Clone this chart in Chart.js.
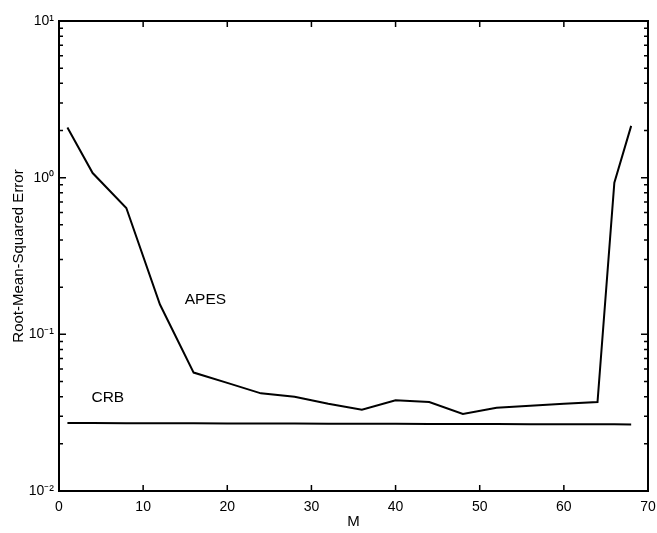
<!DOCTYPE html>
<html>
<head>
<meta charset="utf-8">
<script src="https://cdn.jsdelivr.net/npm/chart.js@4"></script>
<style>
  html, body { margin: 0; padding: 0; background: #fff; }
  #wrap { width: 657px; height: 533px; }
</style>
</head>
<body>
<div id="wrap"><canvas id="c" width="657" height="533"></canvas></div>
<script>
// values
const mValues = [1, 4, 8, 12, 16, 20, 24, 28, 32, 36, 40, 44, 48, 52, 56, 60, 64, 66, 68];
const apesRmse = [2.09, 1.07, 0.64, 0.155, 0.057, 0.049, 0.042, 0.040, 0.036, 0.033, 0.038, 0.037, 0.031, 0.034, 0.035, 0.036, 0.037, 0.93, 2.14];
const crbRmse = [0.0272, 0.0272, 0.0271, 0.0271, 0.0271, 0.0270, 0.0270, 0.0270, 0.0269, 0.0269, 0.0269, 0.0268, 0.0268, 0.0268, 0.0267, 0.0267, 0.0267, 0.0267, 0.0266];
const xTicks = [0, 10, 20, 30, 40, 50, 60, 70];
const decadeLabels = { '-2': '10\u207B\u00B2', '-1': '10\u207B\u00B9', '0': '10\u2070', '1': '10\u00B9' };
const curveLabels = [
  { text: 'APES', m: 17.4, v: 0.167 },
  { text: 'CRB', m: 5.8, v: 0.0393 }
];

const font = { family: 'Liberation Sans, Arial, sans-serif', size: 14 };

const boxTicks = {
  id: 'boxTicks',
  afterDatasetsDraw(chart) {
    const { ctx, chartArea: a, scales: { x, y } } = chart;
    ctx.save();
    ctx.strokeStyle = '#000';
    ctx.lineWidth = 1.5;
    ctx.beginPath();
    x.ticks.forEach(t => {
      const px = x.getPixelForValue(t.value);
      if (px <= a.left + 1 || px >= a.right - 1) return;
      ctx.moveTo(px, a.bottom); ctx.lineTo(px, a.bottom - 6);
      ctx.moveTo(px, a.top); ctx.lineTo(px, a.top + 6);
    });
    y.ticks.forEach(t => {
      const py = y.getPixelForValue(t.value);
      if (py <= a.top + 1 || py >= a.bottom - 1) return;
      const major = Math.abs(Math.log10(t.value) - Math.round(Math.log10(t.value))) < 1e-6;
      const len = major ? 7 : 4;
      ctx.moveTo(a.left, py); ctx.lineTo(a.left + len, py);
      ctx.moveTo(a.right, py); ctx.lineTo(a.right - len, py);
    });
    ctx.stroke();
    ctx.lineWidth = 2;
    ctx.strokeRect(a.left, a.top, a.right - a.left, a.bottom - a.top);
    ctx.fillStyle = '#000';
    ctx.font = '15.5px ' + font.family;
    ctx.textAlign = 'center';
    ctx.textBaseline = 'middle';
    curveLabels.forEach(l => {
      ctx.fillText(l.text, x.getPixelForValue(l.m), y.getPixelForValue(l.v));
    });
    ctx.restore();
  }
};

new Chart(document.getElementById('c'), {
  type: 'line',
  data: {
    labels: mValues,
    datasets: [
      {
        label: 'APES',
        data: mValues.map((m, i) => ({ x: m, y: apesRmse[i] })),
        borderColor: '#000',
        borderWidth: 2,
        pointRadius: 0,
        tension: 0
      },
      {
        label: 'CRB',
        data: mValues.map((m, i) => ({ x: m, y: crbRmse[i] })),
        borderColor: '#000',
        borderWidth: 2,
        pointRadius: 0,
        tension: 0
      }
    ]
  },
  options: {
    responsive: false,
    animation: false,
    layout: { padding: { top: 21, right: 9, left: 0, bottom: 0 } },
    plugins: { legend: { display: false }, tooltip: { enabled: false } },
    scales: {
      x: {
        type: 'linear',
        min: 0,
        max: 70,
        afterBuildTicks: s => { s.ticks = xTicks.map(v => ({ value: v })); },
        afterFit: s => { s.height = 42; s.paddingRight = 0; s.paddingLeft = 0; },
        grid: { display: false, drawTicks: false },
        border: { display: false },
        ticks: { color: '#000', font, padding: 8, maxRotation: 0 },
        title: { display: true, text: 'M', color: '#000', font: { ...font, size: 15 }, padding: { top: 0, bottom: 2 } }
      },
      y: {
        type: 'logarithmic',
        min: 0.01,
        max: 10,
        afterBuildTicks: s => {
          const t = [];
          for (let e = -2; e <= 0; e++) {
            for (let k = 1; k <= 9; k++) t.push({ value: k * Math.pow(10, e) });
          }
          t.push({ value: 10 });
          s.ticks = t;
        },
        afterFit: s => { s.width = 59; s.paddingTop = 0; s.paddingBottom = 0; },
        grid: { display: false, drawTicks: false },
        border: { display: false },
        ticks: {
          color: '#000',
          font,
          padding: 5,
          autoSkip: false,
          callback: v => {
            const e = Math.log10(v);
            return Math.abs(e - Math.round(e)) < 1e-6 ? decadeLabels[String(Math.round(e))] : '';
          }
        },
        title: { display: true, text: 'Root-Mean-Squared Error', color: '#000', font: { ...font, size: 15 }, padding: { top: 10, bottom: 0 } }
      }
    }
  },
  plugins: [boxTicks]
});
</script>
</body>
</html>
